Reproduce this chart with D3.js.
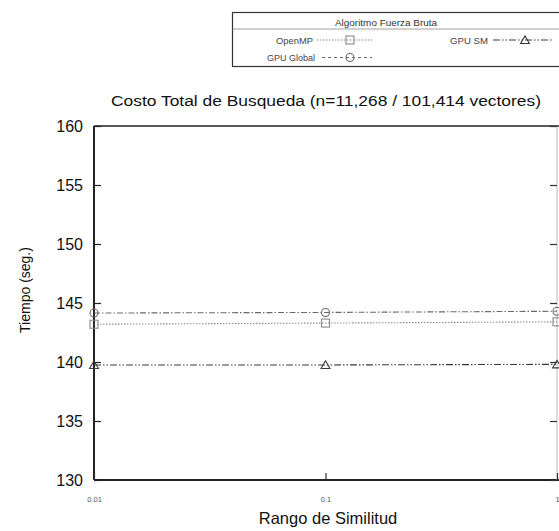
<!DOCTYPE html>
<html>
<head>
<meta charset="utf-8">
<script src="https://cdn.jsdelivr.net/npm/d3@7"></script>
<style>
  html, body { margin: 0; padding: 0; background: #fff; overflow: hidden; }
  svg { display: block; font-family: "Liberation Sans", Arial, Helvetica, sans-serif; }
</style>
</head>
<body>
<svg id="chart" width="559" height="531"></svg>
<script>
// Search range values (log axis) and total times per implementation
const rangos = [0.01, 0.1, 1];
const xTickLabels = ["0.01", "0.1", "1"];
const yTicks = [130, 135, 140, 145, 150, 155, 160];

const openMP    = [143.2, 143.3, 143.4];
const gpuGlobal = [144.15, 144.2, 144.3];
const gpuSM     = [139.75, 139.75, 139.8];

const seriesNames = ["OpenMP", "GPU Global", "GPU SM"];

const svg = d3.select("#chart");

const plot = { left: 94, right: 557, top: 126, bottom: 480 };

const x = d3.scaleLog().domain([0.01, 1]).range([plot.left, plot.right]);
const y = d3.scaleLinear().domain([130, 160]).range([plot.bottom, plot.top]);

// Series styling
const styles = {
  "OpenMP":     { color: "#8a8a8a", dash: "1.5,1.5", marker: "square", width: 1.1 },
  "GPU Global": { color: "#6a6a6a", dash: "6,2,1.5,2", marker: "circle", width: 1.1 },
  "GPU SM":     { color: "#3a3a3a", dash: "7,2,1.5,2,1.5,2", marker: "triangle", width: 1.1 }
};
const seriesData = {
  "OpenMP": openMP,
  "GPU Global": gpuGlobal,
  "GPU SM": gpuSM
};

// Title
svg.append("text")
  .attr("x", 326).attr("y", 106)
  .attr("text-anchor", "middle")
  .attr("font-size", 15.5)
  .attr("textLength", 430)
  .attr("lengthAdjust", "spacingAndGlyphs")
  .attr("fill", "#111")
  .text("Costo Total de Busqueda (n=11,268 / 101,414 vectores)");

// Frame: top/left/bottom dark, right light
svg.append("line").attr("x1", plot.left).attr("x2", plot.right + 4)
  .attr("y1", plot.top).attr("y2", plot.top)
  .attr("stroke", "#222").attr("stroke-width", 1.6);
svg.append("line").attr("x1", plot.left).attr("x2", plot.right + 4)
  .attr("y1", plot.bottom).attr("y2", plot.bottom)
  .attr("stroke", "#222").attr("stroke-width", 1.8);
svg.append("line").attr("x1", plot.left).attr("x2", plot.left)
  .attr("y1", plot.top).attr("y2", plot.bottom)
  .attr("stroke", "#222").attr("stroke-width", 2);
svg.append("line").attr("x1", plot.right).attr("x2", plot.right)
  .attr("y1", plot.top).attr("y2", plot.bottom)
  .attr("stroke", "#bbb").attr("stroke-width", 1);

// Y axis (left) with inward ticks
const yAxis = d3.axisLeft(y).tickValues(yTicks).tickSize(-7).tickPadding(11)
  .tickFormat(d3.format("d"));
const gy = svg.append("g").attr("transform", `translate(${plot.left},0)`).call(yAxis);
gy.select(".domain").remove();
gy.selectAll(".tick line").attr("stroke", "#222").attr("stroke-width", 1.2);
gy.selectAll(".tick text").attr("font-size", 16).attr("fill", "#111")
  .attr("font-family", "Liberation Sans, Arial, sans-serif");

// Right-side inward ticks
const gyr = svg.append("g").attr("transform", `translate(${plot.right},0)`)
  .call(d3.axisRight(y).tickValues(yTicks).tickSize(-7).tickFormat(""));
gyr.select(".domain").remove();
gyr.selectAll(".tick line").attr("stroke", "#333").attr("stroke-width", 1.2);

// X axis (bottom) with inward ticks
const xAxis = d3.axisBottom(x).tickValues(rangos).tickSize(-7).tickPadding(17)
  .tickFormat((d, i) => xTickLabels[i]);
const gx = svg.append("g").attr("transform", `translate(0,${plot.bottom})`).call(xAxis);
gx.select(".domain").remove();
gx.selectAll(".tick line").attr("stroke", "#333").attr("stroke-width", 1.2);
gx.selectAll(".tick text").attr("font-size", 7.5).attr("fill", "#555")
  .attr("font-family", "Liberation Sans, Arial, sans-serif");

// Axis titles
svg.append("text")
  .attr("x", 328).attr("y", 524)
  .attr("text-anchor", "middle")
  .attr("font-size", 16.5)
  .attr("fill", "#111")
  .text("Rango de Similitud");
svg.append("text")
  .attr("transform", "translate(30,290) rotate(-90)")
  .attr("text-anchor", "middle")
  .attr("font-size", 14)
  .attr("fill", "#111")
  .text("Tiempo (seg.)");

// Marker drawing
function drawMarker(g, type, cx, cy, color) {
  if (type === "square") {
    g.append("rect").attr("x", cx - 4).attr("y", cy - 4).attr("width", 8).attr("height", 8)
      .attr("fill", "none").attr("stroke", color).attr("stroke-width", 1.1);
  } else if (type === "circle") {
    g.append("circle").attr("cx", cx).attr("cy", cy).attr("r", 4)
      .attr("fill", "none").attr("stroke", color).attr("stroke-width", 1.1);
  } else {
    const p = d3.symbol(d3.symbolTriangle, 34)();
    g.append("path").attr("d", p).attr("transform", `translate(${cx},${cy + 1})`)
      .attr("fill", "none").attr("stroke", color).attr("stroke-width", 1.1);
  }
}

// Series lines and markers
const line = d3.line().x(d => x(d[0])).y(d => y(d[1]));
const gSeries = svg.append("g");
seriesNames.forEach(name => {
  const st = styles[name];
  const pts = rangos.map((r, i) => [r, seriesData[name][i]]);
  gSeries.append("path")
    .attr("d", line(pts))
    .attr("fill", "none")
    .attr("stroke", st.color)
    .attr("stroke-width", st.width)
    .attr("stroke-dasharray", st.dash);
  pts.forEach(p => drawMarker(gSeries, st.marker, x(p[0]), y(p[1]), st.color));
});

// Legend
const lg = svg.append("g");
lg.append("rect").attr("x", 232.5).attr("y", 12.5).attr("width", 340).attr("height", 54)
  .attr("fill", "#fff").attr("stroke", "#333").attr("stroke-width", 1.2);
lg.append("line").attr("x1", 232.5).attr("x2", 574).attr("y1", 29).attr("y2", 29)
  .attr("stroke", "#888").attr("stroke-width", 0.8);
lg.append("text").attr("x", 386).attr("y", 25.5).attr("text-anchor", "middle")
  .attr("font-size", 9).attr("textLength", 102).attr("lengthAdjust", "spacingAndGlyphs")
  .attr("fill", "#333").text("Algoritmo Fuerza Bruta");

const legendItems = [
  { name: "OpenMP",     tx: 313, ty: 43.5, len: 37, x1: 317, x2: 372, mx: 350, my: 40 },
  { name: "GPU Global", tx: 315, ty: 61,   len: 48, x1: 322, x2: 372, mx: 350, my: 57.5 },
  { name: "GPU SM",     tx: 488, ty: 43.5, len: 38, x1: 493, x2: 553, mx: 525, my: 40 }
];
legendItems.forEach(it => {
  const st = styles[it.name];
  lg.append("text").attr("x", it.tx).attr("y", it.ty).attr("text-anchor", "end")
    .attr("font-size", 9).attr("textLength", it.len).attr("lengthAdjust", "spacingAndGlyphs")
    .attr("fill", "#444").text(it.name);
  lg.append("line").attr("x1", it.x1).attr("x2", it.x2).attr("y1", it.my).attr("y2", it.my)
    .attr("stroke", st.color).attr("stroke-width", 1).attr("stroke-dasharray", it.name === "GPU Global" ? "3,3" : st.dash);
  drawMarker(lg, st.marker, it.mx, it.my, st.color);
});
</script>
</body>
</html>
